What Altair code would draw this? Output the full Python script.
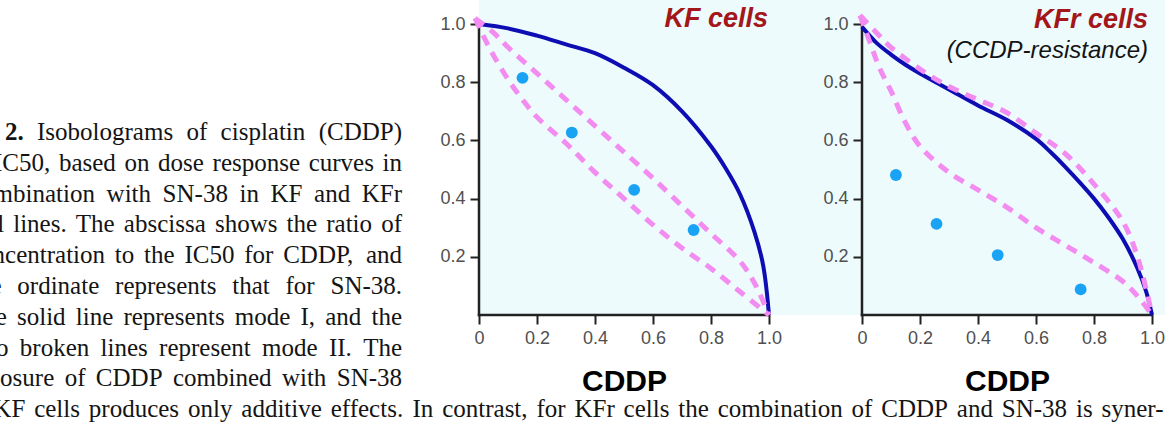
import altair as alt
import pandas as pd

# ------------------------------------------------------------------
# Caption paragraph set beside the two isobologram panels
# ------------------------------------------------------------------
caption_lines = [
    "Fig. 2. Isobolograms of cisplatin (CDDP)",
    "IC50, based on dose response curves in",
    "combination with SN-38 in KF and KFr",
    "cell lines. The abscissa shows the ratio of",
    "concentration to the IC50 for CDDP, and",
    "the ordinate represents that for SN-38.",
    "The solid line represents mode I, and the",
    "two broken lines represent mode II. The",
    "exposure of CDDP combined with SN-38",
    "in KF cells produces only additive effects. In contrast, for KFr cells "
    "the combination of CDDP and SN-38 is syner-",
]
bold_words_first_line = 2  # "Fig. 2."

# ------------------------------------------------------------------
# KF cells (parental line)
# ------------------------------------------------------------------
kf_mode1_x = [0.0, 0.1, 0.2, 0.3, 0.4, 0.5, 0.6, 0.7, 0.8, 0.85, 0.9, 0.95, 0.98, 1.0]
kf_mode1_y = [1.0, 0.985, 0.96, 0.93, 0.90, 0.85, 0.79, 0.70, 0.58, 0.505, 0.415, 0.285, 0.17, 0.0]
kf_upper_x = [-0.014, 0.05, 0.1, 0.2, 0.3, 0.4, 0.5, 0.6, 0.7, 0.8, 0.9, 0.95, 1.0]
kf_upper_y = [1.02, 0.97, 0.92, 0.83, 0.74, 0.65, 0.56, 0.47, 0.375, 0.28, 0.185, 0.11, 0.0]
kf_lower_x = [-0.014, 0.04, 0.1, 0.15, 0.2, 0.3, 0.4, 0.5, 0.6, 0.7, 0.8, 0.9, 1.0]
kf_lower_y = [1.02, 0.91, 0.81, 0.74, 0.68, 0.59, 0.49, 0.40, 0.31, 0.23, 0.16, 0.08, 0.0]
kf_obs_x = [0.15, 0.32, 0.535, 0.74]
kf_obs_y = [0.815, 0.627, 0.43, 0.292]

# ------------------------------------------------------------------
# KFr cells (CDDP-resistant line)
# ------------------------------------------------------------------
kfr_mode1_x = [0.0, 0.05, 0.1, 0.15, 0.2, 0.3, 0.4, 0.5, 0.6, 0.65, 0.7, 0.8, 0.85, 0.9, 0.95, 0.98, 1.0]
kfr_mode1_y = [0.99, 0.935, 0.895, 0.86, 0.83, 0.775, 0.72, 0.67, 0.605, 0.56, 0.51, 0.40, 0.335, 0.26, 0.16, 0.08, 0.0]
kfr_upper_x = [-0.007, 0.05, 0.1, 0.2, 0.3, 0.4, 0.5, 0.6, 0.7, 0.8, 0.9, 0.95, 1.0]
kfr_upper_y = [1.03, 0.97, 0.92, 0.845, 0.785, 0.74, 0.695, 0.625, 0.555, 0.45, 0.32, 0.20, 0.0]
kfr_lower_x = [-0.007, 0.03, 0.06, 0.1, 0.15, 0.2, 0.3, 0.4, 0.5, 0.6, 0.7, 0.8, 0.9, 0.95, 1.0]
kfr_lower_y = [1.03, 0.93, 0.85, 0.77, 0.66, 0.58, 0.49, 0.43, 0.37, 0.30, 0.24, 0.18, 0.115, 0.065, 0.0]
kfr_obs_x = [0.117, 0.257, 0.468, 0.754]
kfr_obs_y = [0.481, 0.313, 0.206, 0.088]

tick_values_x = [0, 0.2, 0.4, 0.6, 0.8, 1.0]
tick_values_y = [0.2, 0.4, 0.6, 0.8, 1.0]

# ------------------------------------------------------------------
# Styling / layout
# ------------------------------------------------------------------
SANS = "Liberation Sans"
SERIF = "Liberation Serif"
BLUE = "#0d0db3"
PINK = "#f28cf0"
DOT = "#1aa3f4"
RED = "#a3161a"
CYAN = "#edfbfc"
AXIS_COLOR = "#222222"
LABEL_COLOR = "#505050"
TEXT_COLOR = "#141414"

PX_PER_X = 290.0       # pixels per unit of concentration ratio
PX_PER_Y = 291.0
VIEW_H = 315
CAPTION_W = 479
PANEL1_W = 383
PANEL2_W = 303

CAP_SIZE = 25
CAP_FIRST_BASELINE = 140.0
CAP_LEADING = 30.8
cap_line_start = [-48, -6, -30, -32, -31, -29, -32, -29, -36, -35]
cap_line_end = [402] * 9 + [1164]

# Times-compatible advance widths (1/1000 em) for justified word placement
TIMES = {" ": 250, ",": 250, ".": 250, "-": 333, "(": 333, ")": 333}
TIMES.update({d: 500 for d in "0123456789"})
TIMES.update(dict(zip("ABCDEFGHIJKLMNOPQRSTUVWXYZ",
                      [722, 667, 667, 722, 611, 556, 722, 722, 333, 389, 722, 611, 889,
                       722, 722, 556, 722, 667, 556, 611, 722, 722, 944, 722, 722, 611])))
TIMES.update(dict(zip("abcdefghijklmnopqrstuvwxyz",
                      [444, 500, 444, 500, 444, 333, 500, 500, 278, 278, 500, 278, 778,
                       500, 500, 500, 500, 333, 389, 278, 500, 500, 722, 500, 500, 444])))


def word_width(word):
    return sum(TIMES.get(c, 500) for c in word) * CAP_SIZE / 1000.0


rows = []
for i, line in enumerate(caption_lines):
    words = line.split(" ")
    widths = [word_width(w) for w in words]
    gap = (cap_line_end[i] - cap_line_start[i] - sum(widths)) / (len(words) - 1)
    x = cap_line_start[i]
    for j, (w, wd) in enumerate(zip(words, widths)):
        rows.append({
            "word": w,
            "x": x,
            "y": CAP_FIRST_BASELINE + CAP_LEADING * i,
            "bold": i == 0 and j < bold_words_first_line,
            "cut": x < 0,
        })
        x += wd + gap
caption_df = pd.DataFrame(rows)


def caption_layer(df, weight, clip):
    return alt.Chart(df).mark_text(
        align="left", baseline="alphabetic", font=SERIF, fontSize=CAP_SIZE,
        fontWeight=weight, color=TEXT_COLOR, clip=clip,
    ).encode(
        x=alt.X("x:Q", scale=None, axis=None),
        y=alt.Y("y:Q", scale=None, axis=None),
        text="word:N",
    )


caption = alt.layer(
    caption_layer(caption_df[(~caption_df.bold) & caption_df.cut], "normal", True),
    caption_layer(caption_df[(~caption_df.bold) & (~caption_df.cut)], "normal", False),
    caption_layer(caption_df[caption_df.bold & caption_df.cut], "bold", True),
    caption_layer(caption_df[caption_df.bold & (~caption_df.cut)], "bold", False),
).properties(width=CAPTION_W, height=424, view=alt.ViewBackground(fill=None, stroke=None))


def panel(mode1_x, mode1_y, upper_x, upper_y, lower_x, lower_y, obs_x, obs_y,
          width, title_right, title_lines):
    xsc = alt.Scale(domain=[0, width / PX_PER_X], nice=False, zero=False)
    ysc = alt.Scale(domain=[0, VIEW_H / PX_PER_Y], nice=False, zero=False)

    x_axis = alt.Axis(
        values=tick_values_x, domain=False, grid=False,
        labelExpr="datum.value == 0 ? '0' : format(datum.value, '.1f')",
        tickSize=9, tickWidth=2, tickColor=AXIS_COLOR,
        labelFont=SANS, labelFontSize=18, labelColor=LABEL_COLOR, labelPadding=5,
        labelFlush=False, labelOverlap=False,
        title="CDDP", titleFont=SANS, titleFontSize=30, titleFontWeight="bold",
        titleColor="#000000", titleX=145, titleY=66, titleAlign="center",
        titleBaseline="middle", titleAnchor="start",
    )
    y_axis = alt.Axis(
        values=tick_values_y, domain=False, grid=False, format=".1f",
        tickSize=9, tickWidth=2, tickColor=AXIS_COLOR,
        labelFont=SANS, labelFontSize=18, labelColor=LABEL_COLOR, labelPadding=5,
        labelFlush=False, labelOverlap=False, title=None,
    )

    frame = alt.Chart(pd.DataFrame({"x": [0, 0], "y": [0, 0], "x2": [1, 0], "y2": [0, 1]})).mark_rule(
        color=AXIS_COLOR, strokeWidth=2.5, strokeCap="square"
    ).encode(
        x=alt.X("x:Q", scale=xsc, axis=x_axis),
        y=alt.Y("y:Q", scale=ysc, axis=y_axis),
        x2="x2:Q", y2="y2:Q",
    )

    solid = alt.Chart(pd.DataFrame({"x": mode1_x, "y": mode1_y})).mark_line(
        color=BLUE, strokeWidth=4, interpolate="catmull-rom"
    ).encode(x=alt.X("x:Q", scale=xsc), y=alt.Y("y:Q", scale=ysc))

    dashed_df = pd.concat([
        pd.DataFrame({"x": upper_x, "y": upper_y, "branch": "upper"}),
        pd.DataFrame({"x": lower_x, "y": lower_y, "branch": "lower"}),
    ])
    dashed = alt.Chart(dashed_df).mark_line(
        color=PINK, strokeWidth=5, strokeDash=[11, 8], interpolate="catmull-rom"
    ).encode(x=alt.X("x:Q", scale=xsc), y=alt.Y("y:Q", scale=ysc), detail="branch:N")

    dots = alt.Chart(pd.DataFrame({"x": obs_x, "y": obs_y})).mark_circle(
        size=140, color=DOT, opacity=1
    ).encode(x=alt.X("x:Q", scale=xsc), y=alt.Y("y:Q", scale=ysc))

    layers = [frame, solid, dashed, dots]
    for text, size, weight, color, baseline_y in title_lines:
        layers.append(
            alt.Chart(pd.DataFrame({"t": [text]})).mark_text(
                align="right", baseline="alphabetic", font=SANS, fontSize=size,
                fontWeight=weight, fontStyle="italic", color=color,
            ).encode(text="t:N", x=alt.value(title_right), y=alt.value(baseline_y))
        )
    return alt.layer(*layers).properties(
        width=width, height=VIEW_H, view=alt.ViewBackground(fill=CYAN, stroke=None)
    )


panel_kf = panel(kf_mode1_x, kf_mode1_y, kf_upper_x, kf_upper_y, kf_lower_x, kf_lower_y,
                 kf_obs_x, kf_obs_y, PANEL1_W, 289,
                 [("KF cells", 27, "bold", RED, 27)])
panel_kfr = panel(kfr_mode1_x, kfr_mode1_y, kfr_upper_x, kfr_upper_y, kfr_lower_x, kfr_lower_y,
                  kfr_obs_x, kfr_obs_y, PANEL2_W, 286,
                  [("KFr cells", 27, "bold", RED, 28),
                   ("(CCDP-resistance)", 24, "normal", TEXT_COLOR, 58)])

chart = alt.hconcat(caption, panel_kf, panel_kfr, spacing=0, bounds="flush").properties(
    padding=0, background="white"
).configure_view(stroke=None)

chart.save("out.html", embed_options={"renderer": "svg", "actions": False})
